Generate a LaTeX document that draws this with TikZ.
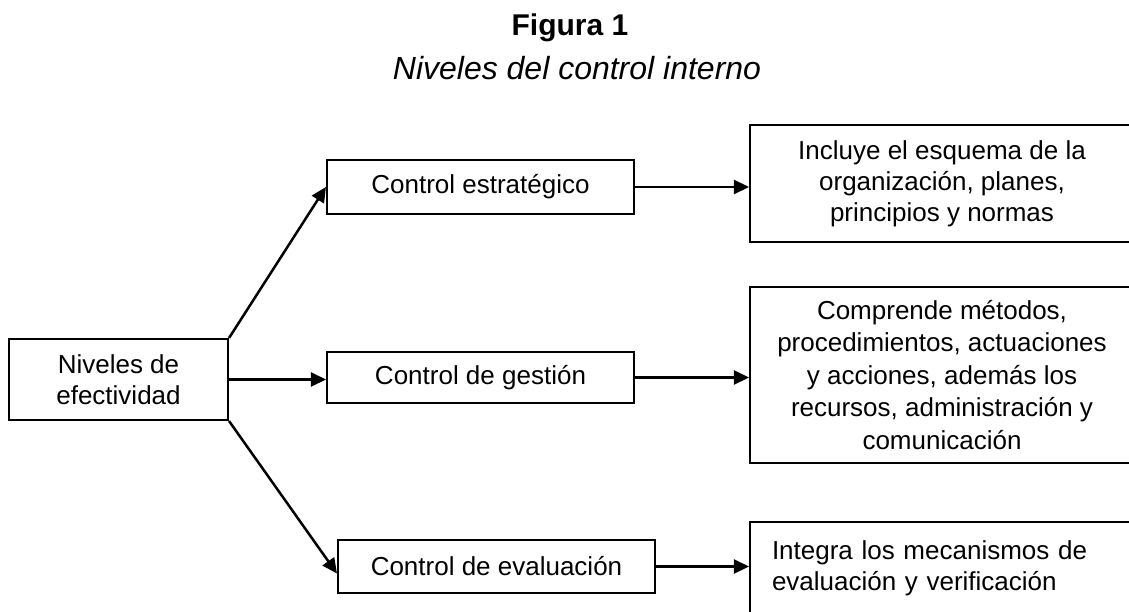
\documentclass[tikz,border=0pt]{standalone}
\usepackage{fontspec}
\setmainfont{Liberation Sans}
\usetikzlibrary{arrows.meta}
\tikzset{
  boxtxt/.style={font=\fontsize{26}{31}\selectfont},
  cbox/.style={draw, line width=2.1pt, inner sep=0pt, align=center, boxtxt},
  conn/.style={line width=2.5pt, -{Triangle[length=15pt,width=14pt]}},
}
\begin{document}
\begin{tikzpicture}[x=1pt,y=-1pt]
\useasboundingbox (0,0) rectangle (1129,612);
\clip (0,0) rectangle (1129,612);
\fill[white] (0,0) rectangle (1129,612);
% titles
\node (t1) at (570,28) {\fontsize{30}{36}\selectfont\bfseries Figura 1};
\node (t2) at (577,68) {\fontsize{32}{38}\selectfont\itshape Niveles del control interno};
% left box
\node[cbox, minimum width=219pt, minimum height=81pt] (lvl) at (118.5,379.5) {Niveles de\\efectividad};
% middle boxes
\node[cbox, minimum width=307pt, minimum height=54pt] (ce) at (480.5,187) {Control estratégico};
\node[cbox, minimum width=307pt, minimum height=51pt] (cg) at (480.5,377.5) {Control de gestión};
\node[cbox, minimum width=317pt, minimum height=53pt] (cv) at (496.5,566.5) {Control de evaluación};
% right boxes
\node[cbox, minimum width=384pt, minimum height=117pt] (r1) at (942,183.5) {Incluye el esquema de la\\organización, planes,\\principios y normas};
\node[cbox, minimum width=384pt, minimum height=176pt, font=\fontsize{26}{32.5}\selectfont] (r2) at (942,375) {Comprende métodos,\\procedimientos, actuaciones\\y acciones, además los\\recursos, administración y\\comunicación};
\node[draw, line width=2.1pt, boxtxt, align=left, text width=340pt, inner xsep=22pt, inner ysep=0pt, minimum height=93pt] (r3) at (942,568.5) {Integra los mecanismos de\\evaluación y verificación};
% connectors
\draw[conn] (lvl.north east) -- (ce.west);
\draw[conn] (lvl.east) -- (lvl.east -| cg.west);
\draw[conn] (lvl.south east) -- ([yshift=-7pt]cv.west);
\draw[conn] (ce.east) -- (ce.east -| r1.west);
\draw[conn] (cg.east) -- (cg.east -| r2.west);
\draw[conn] (cv.east) -- (cv.east -| r3.west);
\end{tikzpicture}
\end{document}
